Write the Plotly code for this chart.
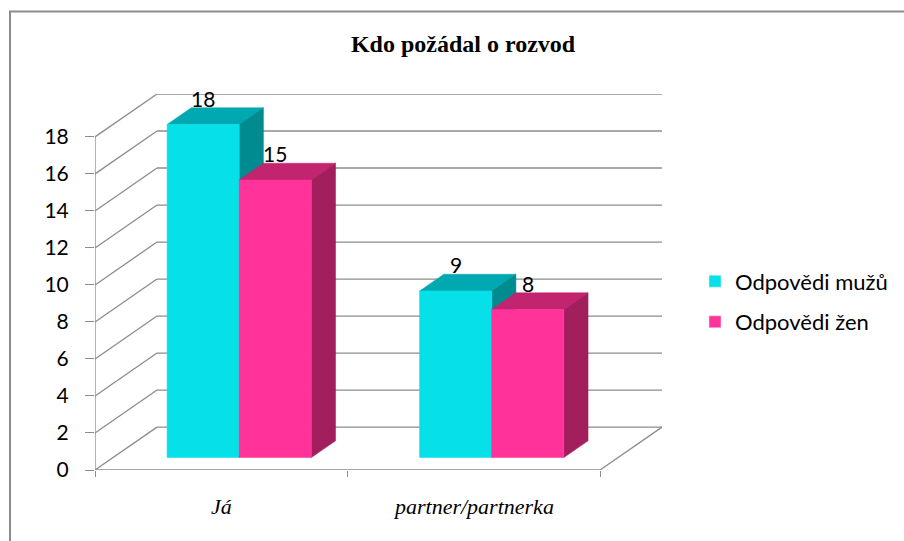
import plotly.graph_objects as go

# ---- data ----
categories = ["Já", "partner/partnerka"]
series_names = ["Odpovědi mužů", "Odpovědi žen"]
men_values = [18, 9]
women_values = [15, 8]
y_ticks = [0, 2, 4, 6, 8, 10, 12, 14, 16, 18]

# ---- style / projection parameters ----
front_colors = ["#06E0E8", "#FF3399"]
top_colors = ["#00A9B1", "#C3246F"]
side_colors = ["#008B91", "#A21E5C"]
grid_color = "#8C8C8C"

CAT_PX = 252.5           # pixels per category unit
VAL_PX = 18.55           # pixels per value unit
DXu = 62 / CAT_PX        # depth offset (x, in category units)
DYu = 43 / VAL_PX        # depth offset (y, in value units)
BAR_W = 1 / 3.5          # gap width 150 %
D0, D1 = 0.29, 0.68      # bar depth range

X_MIN = -0.5
X_MAX = len(categories) - 0.5
Y_MAX = 18

fig = go.Figure()

def line(x0, y0, x1, y1, width=1.3):
    fig.add_shape(type="line", x0=x0, y0=y0, x1=x1, y1=y1, layer="below",
                  line=dict(color=grid_color, width=width))

# back wall grid lines + left wall diagonals
for v in y_ticks:
    line(X_MIN + DXu, v + DYu, X_MAX + DXu, v + DYu)
    line(X_MIN, v, X_MIN + DXu, v + DYu)
# front vertical axis
line(X_MIN, 0, X_MIN, Y_MAX)
# floor front edge and right diagonal
line(X_MIN, 0, X_MAX, 0)
line(X_MAX, 0, X_MAX + DXu, DYu)

def face(xs, ys, color):
    fig.add_trace(go.Scatter(x=xs + [xs[0]], y=ys + [ys[0]], mode="lines",
                             fill="toself", fillcolor=color,
                             line=dict(color=color, width=0.5),
                             showlegend=False, hoverinfo="skip"))

all_values = [men_values, women_values]
for ci, cat in enumerate(categories):
    for si, vals in enumerate(all_values):
        v = vals[ci]
        xl = ci - BAR_W + si * BAR_W + D0 * DXu
        xr = xl + BAR_W
        yb = D0 * DYu
        yt = v + D0 * DYu
        dx = (D1 - D0) * DXu
        dy = (D1 - D0) * DYu
        # top face
        face([xl, xr, xr + dx, xl + dx], [yt, yt, yt + dy, yt + dy], top_colors[si])
        # side face
        face([xr, xr + dx, xr + dx, xr], [yb, yb + dy, yt + dy, yt], side_colors[si])
        # front face
        face([xl, xr, xr, xl], [yb, yb, yt, yt], front_colors[si])
        # data label
        fig.add_annotation(x=(xl + xr) / 2, y=v + D1 * DYu, text=str(v),
                           showarrow=False, yanchor="bottom", yshift=-5,
                           font=dict(family="Lato", size=21, color="#000000"))
    # category label
    fig.add_annotation(x=ci, y=0, text=cat, showarrow=False, yanchor="top",
                       yshift=-22,
                       font=dict(family="Liberation Serif", size=22, color="#000000",
                                 style="italic"))

# legend entries
for si, name in enumerate(series_names):
    fig.add_trace(go.Bar(x=[None], y=[None], name=name,
                         marker=dict(color=front_colors[si]),
                         legendgroup=name))

ML, MR = 95, 904 - 662
MT = 470.5 - (Y_MAX + DYu) * VAL_PX
MB = 541 - 470.5
PW = 904 - ML - MR
PH = 541 - MT - MB

def px_x(p):
    return (p - ML) / PW

def px_y(p):
    return (541 - MB - p) / PH

# outer border
fig.add_shape(type="rect", xref="paper", yref="paper",
              x0=px_x(10), x1=px_x(920), y0=px_y(11), y1=px_y(560),
              line=dict(color="#8C8C8C", width=2), layer="below")

fig.update_layout(
    width=904, height=541,
    margin=dict(l=ML, r=MR, t=MT, b=MB, autoexpand=False),
    paper_bgcolor="white", plot_bgcolor="white",
    title=dict(text="<b>Kdo požádal o rozvod</b>", x=463 / 904, xanchor="center",
               y=1 - 44 / 541, yanchor="middle",
               font=dict(family="Liberation Serif", size=24, color="#000000")),
    xaxis=dict(range=[X_MIN, X_MAX + DXu], showgrid=False, zeroline=False,
               showline=False, tickvals=[X_MIN + i for i in range(len(categories) + 1)],
               ticktext=["" for _ in range(len(categories) + 1)],
               ticks="outside", ticklen=6, tickcolor=grid_color, tickwidth=1.3,
               fixedrange=True),
    yaxis=dict(range=[0, Y_MAX + DYu], showgrid=False, zeroline=False,
               showline=False, tickvals=y_ticks, ticks="outside", ticklen=9,
               tickcolor=grid_color, tickwidth=1.3, ticklabelstandoff=12,
               tickfont=dict(family="Lato", size=21, color="#000000"),
               fixedrange=True),
    legend=dict(x=px_x(695), y=px_y(302), xanchor="left", yanchor="middle",
                font=dict(family="Lato", size=22, color="#000000"),
                tracegroupgap=9, bgcolor="rgba(0,0,0,0)"),
    showlegend=True,
    bargap=0,
)

fig.write_html("out.html", config={"displayModeBar": False},
               post_script="document.body.style.margin='0';")
